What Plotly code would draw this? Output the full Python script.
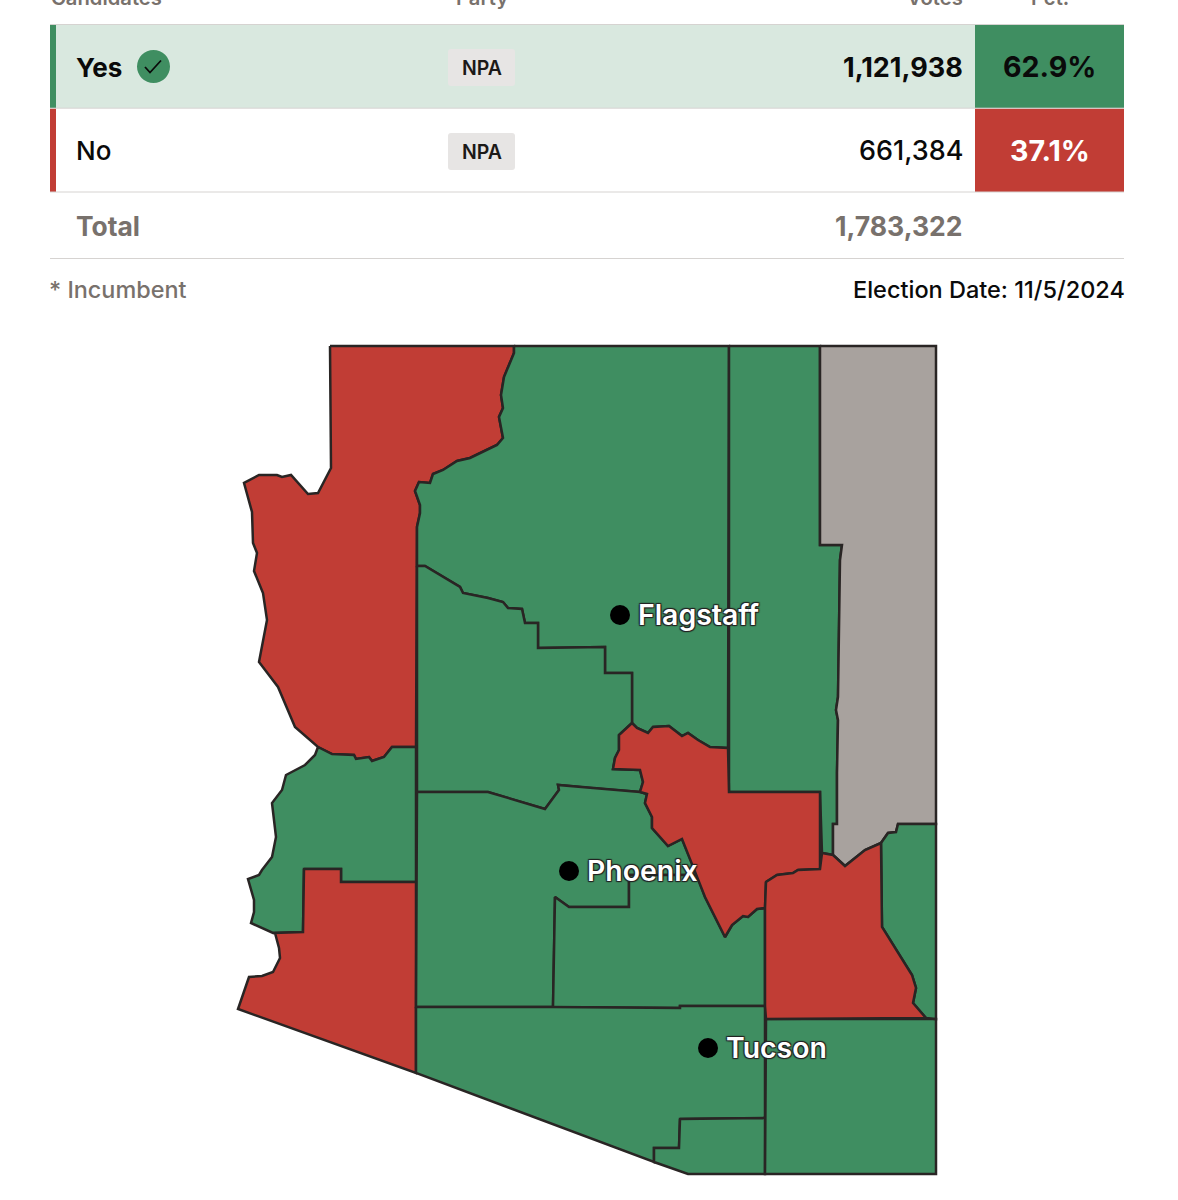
import plotly.graph_objects as go

# ---- table data ----
HEADERS = ["Candidates", "Party", "Votes", "Pct."]
CHOICES = ["Yes", "No"]
PARTIES = ["NPA", "NPA"]
VOTES = ["1,121,938", "661,384"]
PCTS = ["62.9%", "37.1%"]
TOTAL_VOTES = "1,783,322"
FOOTNOTE = "* Incumbent"
ELECTION = "Election Date: 11/5/2024"

# ---- map outlines ----
MOHAVE = [(330,346),(514,346),(514,353),(504,377),(501,395),(503,408),(499,417),(503,438),(497,445),(470,458),(457,461),(443,470),(433,474),(430,483),(419,482),(415,491),(420,505),(420,513),(417,527),(416,747),(392,747),(384,757),(372,761),(369,757),(356,759),(354,755),(332,754),(318,747),(295,727),(278,687),(259,662),(267,620),(263,593),(254,571),(257,553),(253,543),(252,512),(247,493),(244,483),(259,475),(277,475),(282,477),(291,475),(308,494),(318,493),(331,468)]
COCONINO = [(514,346),(729,346),(728,748),(710,747),(698,740),(688,733),(682,736),(669,726),(653,727),(648,733),(637,728),(632,723),(632,673),(605,673),(605,647),(538,648),(538,623),(525,623),(522,609),(508,608),(503,602),(488,598),(463,593),(460,587),(425,566),(417,566),(417,527),(420,513),(420,505),(415,491),(419,482),(430,483),(433,474),(443,470),(457,461),(470,458),(497,445),(503,438),(499,417),(503,408),(501,395),(504,377),(514,353)]
NAVAJO = [(729,346),(820,346),(820,545),(842,545),(840,560),(838,697),(836,710),(838,720),(837,773),(837,824),(833,824),(833,855),(822,853),(820,792),(729,792)]
APACHE = [(820,346),(936,346),(936,824),(898,824),(896,832),(888,833),(881,843),(865,850),(845,866),(833,855),(833,824),(837,824),(837,773),(838,720),(836,710),(838,697),(840,560),(842,545),(820,545)]
GILA = [(728,748),(729,792),(820,792),(820,869),(798,870),(793,873),(777,875),(766,882),(765,908),(757,909),(748,917),(743,916),(732,925),(725,937),(705,897),(682,839),(668,846),(652,828),(652,817),(645,803),(647,794),(640,792),(643,782),(640,770),(613,769),(615,758),(619,750),(619,735),(632,723),(637,728),(648,733),(653,727),(669,726),(682,736),(688,733),(698,740),(710,747)]
YAVAPAI = [(417,566),(425,566),(460,587),(463,593),(488,598),(503,602),(508,608),(522,609),(525,623),(538,623),(538,648),(605,647),(605,673),(632,673),(632,723),(619,735),(619,750),(615,758),(613,769),(640,770),(643,782),(640,792),(590,788),(558,785),(559,790),(545,809),(488,792),(417,792)]
LA_PAZ = [(318,747),(332,754),(354,755),(356,759),(369,757),(372,761),(384,757),(392,747),(416,747),(416,882),(341,882),(341,869),(304,869),(303,932),(273,933),(251,923),(254,912),(254,900),(248,879),(259,875),(262,870),(272,857),(276,837),(272,803),(282,790),(286,775),(305,765),(315,755)]
YUMA = [(304,869),(341,869),(341,882),(416,882),(416,1073),(238,1009),(249,977),(262,976),(273,972),(280,958),(279,948),(275,933),(273,933),(303,932)]
MARICOPA = [(417,792),(488,792),(545,809),(559,790),(558,785),(590,788),(640,792),(647,794),(645,803),(652,817),(652,828),(668,846),(682,839),(697,875),(629,875),(629,907),(569,907),(555,897),(553,1007),(416,1007)]
PINAL = [(553,1007),(555,897),(569,907),(629,907),(629,875),(697,875),(705,897),(725,937),(732,925),(743,916),(748,917),(757,909),(765,908),(765,1006),(680,1006),(680,1008)]
PIMA = [(416,1007),(553,1007),(680,1008),(680,1006),(765,1006),(765,1118),(680,1119),(679,1148),(654,1148),(654,1162),(416,1073)]
SANTA_CRUZ = [(680,1119),(765,1118),(765,1174),(688,1174),(654,1162),(654,1148),(679,1148)]
COCHISE = [(766,1019),(936,1019),(936,1174),(765,1174)]
GRAHAM = [(766,882),(765,908),(765,1006),(766,1019),(926,1018),(913,1003),(916,988),(912,975),(882,927),(881,843),(865,850),(845,866),(833,855),(822,853),(820,869),(798,870),(793,873),(777,875)]
GREENLEE = [(881,843),(888,833),(896,832),(898,824),(936,824),(936,1019),(926,1018),(913,1003),(916,988),(912,975),(882,927)]

GREEN, RED, GRAY = "#3F8E61", "#C13D35", "#A8A29E"
COUNTIES = [("Mohave",MOHAVE,RED),("Coconino",COCONINO,GREEN),("Navajo",NAVAJO,GREEN),("Apache",APACHE,GRAY),
            ("Yavapai",YAVAPAI,GREEN),("La Paz",LA_PAZ,GREEN),("Yuma",YUMA,RED),("Maricopa",MARICOPA,GREEN),
            ("Pinal",PINAL,GREEN),("Pima",PIMA,GREEN),("Santa Cruz",SANTA_CRUZ,GREEN),("Cochise",COCHISE,GREEN),
            ("Greenlee",GREENLEE,GREEN),("Gila",GILA,RED),("Graham",GRAHAM,RED)]

CITY_NAMES = ["Flagstaff", "Phoenix", "Tucson"]
CITY_X = [620, 569, 708]
CITY_Y = [615, 871, 1048]

FONT = "Inter, 'Noto Sans', sans-serif"
INK, MUTED, RULE, BORDER = "#0A0A0A", "#78716C", "#D6D3D1", "#292524"

fig = go.Figure()

def rect(x0, y0, x1, y1, fill):
    fig.add_shape(type="rect", x0=x0, y0=y0, x1=x1, y1=y1, fillcolor=fill, line_width=0, layer="below")

def hline(y, x0=50, x1=1124):
    fig.add_shape(type="line", x0=x0, x1=x1, y0=y, y1=y, line=dict(color=RULE, width=1), layer="below")

# table cells
rect(50, 25, 975, 108, "#D9E8DF")
rect(50, 25, 56, 108, GREEN)
rect(50, 108.5, 56, 192, RED)
rect(975, 25, 1124, 108, GREEN)
rect(975, 108.5, 1124, 192, RED)
hline(24.5); hline(108.2); hline(192); hline(258.5)
for y0, y1 in ((49, 86), (133, 170)):
    fig.add_shape(type="path", path=f"M 451 {y0} H 512 Q 515 {y0} 515 {y0+3} V {y1-3} Q 515 {y1} 512 {y1} H 451 Q 448 {y1} 448 {y1-3} V {y0+3} Q 448 {y0} 451 {y0} Z",
                  fillcolor="#E7E5E4", line_width=0, layer="below")
fig.add_shape(type="circle", x0=137, x1=170, y0=50, y1=83, fillcolor=GREEN, line_width=0)
fig.add_shape(type="path", path="M 145 67 L 150 72.5 L 161 60.5", line=dict(color="#0A0A0A", width=1.8))

PAD = {"left": -3, "right": 3, "center": 0}

def label(x, y, text, size, color=INK, weight=400, anchor="left"):
    fig.add_annotation(x=x + PAD[anchor], y=y, xref="x", yref="y", text=text, showarrow=False, xanchor=anchor, yanchor="middle",
                       font=dict(family=FONT, size=size, color=color, weight=weight))

# header row is cut by the top of the picture
for txt, x, anc in zip(HEADERS, (52, 481.5, 962, 1050), ("left", "center", "right", "center")):
    fig.add_annotation(x=x + PAD[anc], y=1, xref="x", yref="paper", text=txt, showarrow=False, xanchor=anc, yanchor="middle", yshift=3,
                       font=dict(family=FONT, size=20.2, color=MUTED, weight=600))

label(77, 67, CHOICES[0], 26, weight=700)
label(77, 150.5, CHOICES[1], 26, weight=500)
for y, p in zip((67.5, 151.5), PARTIES):
    label(481.5, y, p, 19.5, color="#1C1917", weight=600, anchor="center")
label(962, 67, VOTES[0], 27, weight=700, anchor="right")
label(962, 150.5, VOTES[1], 27, weight=500, anchor="right")
label(1049.5, 66, PCTS[0], 28.6, color="#0A0A0A", weight=700, anchor="center")
label(1049.5, 150, PCTS[1], 28.6, color="#FFFFFF", weight=700, anchor="center")
label(77, 225.5, "Total", 26.4, color=MUTED, weight=700)
label(962, 225.5, TOTAL_VOTES, 26.6, color=MUTED, weight=700, anchor="right")
label(50, 289.5, FOOTNOTE, 23.4, color=MUTED, weight=500)
label(1124, 289.5, ELECTION, 23.5, color=INK, weight=500, anchor="right")

# map
for name, pts, col in COUNTIES:
    xs = [p[0] for p in pts] + [pts[0][0]]
    ys = [p[1] for p in pts] + [pts[0][1]]
    fig.add_trace(go.Scatter(x=xs, y=ys, mode="lines", fill="toself", fillcolor=col, name=name,
                             line=dict(color=BORDER, width=2.5), hoverinfo="name", showlegend=False))

fig.add_trace(go.Scatter(x=CITY_X, y=CITY_Y, mode="markers", marker=dict(color="#000000", size=20), showlegend=False, hoverinfo="skip"))
fig.add_trace(go.Scatter(x=[v + 18 for v in CITY_X], y=[v + 3 for v in CITY_Y], mode="text", text=CITY_NAMES, textposition="middle right",
                         textfont=dict(family=FONT, size=28.4, color="#FFFFFF", weight=600,
                                       shadow="1px 1px 1px #222, -1px -1px 1px #222, 1px -1px 1px #222, -1px 1px 1px #222"),
                         showlegend=False, hoverinfo="skip", cliponaxis=False))

fig.update_layout(width=1178, height=1200, margin=dict(l=0, r=0, t=0, b=0), paper_bgcolor="white", plot_bgcolor="white",
                  xaxis=dict(range=[0, 1178], visible=False), yaxis=dict(range=[1200, 0], visible=False), showlegend=False)
fig.write_html("out.html", config={"displayModeBar": False},
               post_script="document.body.style.margin='0';document.documentElement.style.overflow='hidden';")
